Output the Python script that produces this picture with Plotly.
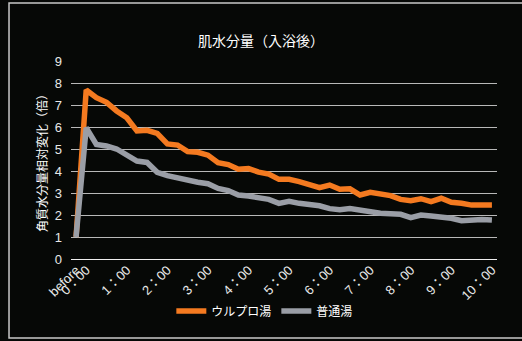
import plotly.graph_objects as go

# categories: before, then every 15 minutes from 0:00 to 10:00
categorias = ["before"] + [f"{m // 60}:{m % 60:02d}" for m in range(0, 601, 15)]

ulpro = [1.0, 7.68, 7.33, 7.12, 6.73, 6.42, 5.82, 5.85, 5.71, 5.23, 5.18,
         4.88, 4.85, 4.72, 4.38, 4.29, 4.08, 4.11, 3.95, 3.86, 3.62,
         3.62, 3.52, 3.36, 3.24, 3.36, 3.17, 3.19, 2.91, 3.03, 2.94,
         2.88, 2.71, 2.65, 2.74, 2.61, 2.76, 2.58, 2.53, 2.45, 2.45, 2.45]

futsu = [1.0, 5.97, 5.21, 5.14, 5.0, 4.73, 4.45, 4.39, 3.94, 3.79, 3.67,
         3.58, 3.49, 3.42, 3.21, 3.11, 2.91, 2.86, 2.76, 2.71, 2.53,
         2.62, 2.53, 2.47, 2.42, 2.29, 2.24, 2.29, 2.2, 2.12, 2.08,
         2.06, 2.03, 1.88, 2.0, 1.95, 1.91, 1.85, 1.74, 1.8, 1.8, 1.77]

tick_vals = ["before"] + [f"{h}:00" for h in range(11)]
tick_text = ["before"] + [f"{h}：00" for h in range(11)]

fig = go.Figure()
fig.add_trace(go.Scatter(x=categorias, y=ulpro, name="ウルプロ湯", mode="lines",
                         line=dict(color="#F47A20", width=5.5)))
fig.add_trace(go.Scatter(x=categorias, y=futsu, name="普通湯", mode="lines",
                         line=dict(color="#9A9EA6", width=5.5)))

fig.update_layout(
    width=522, height=341,
    margin=dict(l=71, r=25, t=61, b=82),
    paper_bgcolor="#060806",
    plot_bgcolor="#060806",
    font=dict(family="Liberation Sans, Noto Sans CJK JP", color="#e8e8e8", size=13),
    title=dict(text="肌水分量（入浴後）", x=0.5, xanchor="center", y=0.88, yanchor="middle",
               font=dict(family="Noto Sans CJK JP", size=14, color="white")),
    legend=dict(orientation="h", x=0.455, xanchor="center", y=-0.263, yanchor="middle",
                font=dict(family="Noto Sans CJK JP", size=12, color="white"),
                itemwidth=30, bgcolor="rgba(0,0,0,0)"),
    showlegend=True,
)
fig.update_xaxes(type="category", range=[-0.5, 41.5], tickmode="array",
                 tickvals=tick_vals, ticktext=tick_text, tickangle=-45,
                 showgrid=False, showline=False, zeroline=False,
                 tickfont=dict(size=13, color="#e8e8e8"))
fig.update_yaxes(range=[0, 9], dtick=1, showgrid=True, gridcolor="#b8b8b8", gridwidth=1,
                 zeroline=True, zerolinecolor="#eeeeee", zerolinewidth=1,
                 showline=False, ticks="", ticklabelstandoff=8,
                 tickfont=dict(size=13, color="#e8e8e8"),
                 title=dict(text="角質水分量相対変化（倍）", standoff=4,
                            font=dict(family="Noto Sans CJK JP", size=12, color="white")))

# outer frame (right edge falls outside the image)
fig.add_shape(type="rect", xref="paper", yref="paper",
              x0=-0.1455, x1=1.08, y0=-0.399, y1=1.293,
              line=dict(color="#c8c8c8", width=1.5), layer="below")

fig.write_html("out.html", config={"displayModeBar": False},
               post_script="document.body.style.margin='0';"
                           "document.body.style.background='#060806';")
